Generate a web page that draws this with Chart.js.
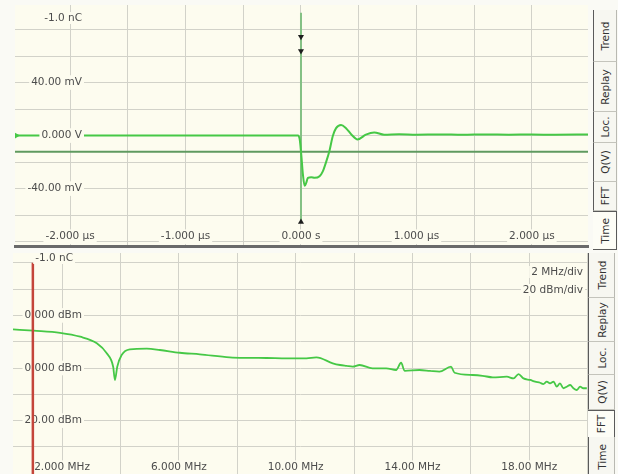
<!DOCTYPE html>
<html>
<head>
<meta charset="utf-8">
<script src="https://cdn.jsdelivr.net/npm/chart.js@4/dist/chart.umd.min.js"></script>
<style>
  html, body { margin: 0; padding: 0; }
  body { width: 618px; height: 474px; overflow: hidden; position: relative; background: #fafaf5; }
  canvas { position: absolute; }
  #timeChart { left: 0; top: 0; }
  #fftChart { left: 0; top: 253px; }
  .tab { position: absolute; box-sizing: border-box; background: #f7f7f1;
         border-left: 1.5px solid #5a5a5a; border-right: 1px solid #b9b9b2; border-bottom: 1px solid #c4c4bc; overflow: hidden; }
  .tab.sel { background: #fdfdf6; border-left: none; border-right: 1.5px solid #5a5a5a;
             border-top: 1.5px solid #5a5a5a; border-bottom: 1.5px solid #5a5a5a; }
  .tab span { position: absolute; left: 50%; top: 50%; transform: translate(-50%, -50%) rotate(-90deg);
              font: 10.5px "DejaVu Sans", sans-serif; color: #333; white-space: nowrap; }
</style>
</head>
<body>
<canvas id="timeChart" width="593" height="251"></canvas>
<canvas id="fftChart" width="589" height="223"></canvas>

<!-- view selector tabs, time panel -->
<div class="tab" style="left:593px;top:10px;width:24px;height:52px"><span>Trend</span></div>
<div class="tab" style="left:593px;top:62px;width:24px;height:50px"><span>Replay</span></div>
<div class="tab" style="left:593px;top:112px;width:24px;height:31px"><span>Loc.</span></div>
<div class="tab" style="left:593px;top:143px;width:24px;height:39px"><span>Q(V)</span></div>
<div class="tab" style="left:593px;top:182px;width:24px;height:29px"><span>FFT</span></div>
<div class="tab sel" style="left:593px;top:211px;width:24px;height:39px"><span>Time</span></div>

<!-- view selector tabs, spectrum panel -->
<div class="tab" style="left:588px;top:253px;width:27px;height:45px"><span>Trend</span></div>
<div class="tab" style="left:588px;top:298px;width:27px;height:44px"><span>Replay</span></div>
<div class="tab" style="left:588px;top:342px;width:27px;height:33px"><span>Loc.</span></div>
<div class="tab" style="left:588px;top:375px;width:27px;height:35px"><span>Q(V)</span></div>
<div class="tab sel" style="left:588px;top:410px;width:27px;height:28px"><span>FFT</span></div>
<div class="tab" style="left:588px;top:437px;width:27px;height:40px"><span>Time</span></div>

<script>
// ---- time-domain capture (µs, mV) ----
const timeUs = [-2.477, -2.0, -1.5, -1.0, -0.5, -0.1, -0.026, -0.011, 0.003, 0.017, 0.032, 0.046, 0.06,
                0.089, 0.118, 0.161, 0.189, 0.218, 0.247, 0.275, 0.304, 0.347, 0.39, 0.44, 0.49, 0.562,
                0.634, 0.72, 0.85, 1.0, 1.2, 1.4, 1.6, 1.8, 2.0, 2.2, 2.486];
const voltMv = [0, 0, 0, 0, 0, 0, 0, -2.9, -15, -29.5, -37.9, -35.5, -31.9,
                -31.4, -31.9, -30.7, -27, -19.8, -11.4, -0.5, 5.6, 8.0, 5.6, 0.5, -2.9, 0.7,
                2.4, 0.7, 1.0, 0.7, 0.9, 0.6, 0.9, 0.7, 0.8, 0.6, 0.8];

// integrated charge trace (nC), flat over the record
const chargeTimeUs = [-2.477, 2.486];
const chargeNc = [-0.375, -0.375];

// trigger cursor
const cursorTimeUs = 0;
const cursorSpanMv = [92.7, -66.0];
const cursorMarkMv = [74.6, 63.8, -65.2];
const cursorMarkRotation = [180, 180, 0];

// ---- spectrum (MHz, dBm) ----
const freqMHz = [0.32, 1.02, 1.93, 2.62, 3.19, 3.53, 3.75, 3.81, 3.89, 4.04, 4.32, 4.90, 5.35, 6.03,
                 6.72, 7.74, 8.4, 9.0, 9.7, 10.37, 10.71, 11.27, 11.52, 11.75, 11.95, 12.19, 12.63, 13.1,
                 13.44, 13.61, 13.73, 14.24, 14.6, 14.92, 15.32, 15.44, 16.06, 16.4, 16.75, 17.23, 17.46,
                 17.63, 17.8, 18.03, 18.2, 18.37, 18.48, 18.6, 18.71, 18.83, 18.94, 19.05, 19.17, 19.28,
                 19.4, 19.51, 19.63, 19.74, 19.85, 19.97];
const levelDbm = [29.4, 28.4, 26.8, 23.8, 18.8, 11.2, 1.0, -9.1, 1.0, 9.9, 14.2, 14.7, 13.7, 11.6,
                  10.4, 8.1, 7.7, 7.6, 7.3, 7.4, 8.1, 3.6, 2.3, 1.6, 1.0, 2.3, -0.2, -0.2,
                  -1.5, 4.0, -2.1, -1.5, -2.2, -2.8, 1.0, -3.6, -5.3, -5.9, -7.1, -6.6, -7.9,
                  -4.6, -7.9, -9.1, -10.4, -11.2, -12.2, -10.4, -11.7, -10.4, -14.2, -11.7, -15.4, -14.2,
                  -12.9, -15.4, -16.7, -14.2, -15.4, -15.4];
const markerFreqMHz = 1.0;
const markerSpanDbm = [80, -90];

// ---- axes: grid divisions and labelled ticks ----
const timeGrid = [-2, -1.5, -1, -0.5, 0, 0.5, 1, 1.5, 2];
const timeTickValues = [-2, -1, 0, 1, 2];
const timeTickLabels = ['-2.000 µs', '-1.000 µs', '0.000 s', '1.000 µs', '2.000 µs'];
const voltGrid = [80, 60, 40, 20, 0, -20, -40, -60, -80];
const voltTickValues = [40, 0, -40];
const voltTickLabels = ['40.00 mV', '0.000 V', '-40.00 mV'];

const freqGrid = [2, 4, 6, 8, 10, 12, 14, 16, 18, 20];
const freqTickValues = [2, 6, 10, 14, 18];
const freqTickLabels = ['2.000 MHz', '6.000 MHz', '10.00 MHz', '14.00 MHz', '18.00 MHz'];
const levelGrid = [80, 60, 40, 20, 0, -20, -40, -60];
const levelTickValues = [40, 0, -40];
const levelTickLabels = ['0.000 dBm', '0.000 dBm', '20.00 dBm'];

// ---- styling ----
const FAMILY = '"DejaVu Sans", sans-serif';
const FONT_SIZE = 10.5;
const LABEL_COLOR = '#4c4c4c';
const PLOT_BG = '#fdfcef';
const GRID_COLOR = '#d2d2c9';
const TRACE = '#46c846';

function textWidth(text) {
  const c = document.createElement('canvas').getContext('2d');
  c.font = FONT_SIZE + 'px ' + FAMILY;
  return c.measureText(text).width;
}
const widestOf = labels => Math.max(...labels.map(textWidth));

const labelFor = (values, labels) => v => {
  const i = values.findIndex(x => Math.abs(x - v) < 1e-6);
  return i >= 0 ? labels[i] : '';
};
const backdropFor = ctx => (ctx.tick && ctx.tick.label ? PLOT_BG : 'rgba(0,0,0,0)');
const gridTicks = values => scale => { scale.ticks = values.map(v => ({ value: v })); };
const flatX = s => { s.height = 0; s.paddingLeft = 0; s.paddingRight = 0; };
const flatY = s => { s.width = 0; s.paddingTop = 0; s.paddingBottom = 0; };
const xy = (xs, ys) => xs.map((x, i) => ({ x, y: ys[i] }));

// cream plot field
const plotFill = {
  id: 'plotFill',
  beforeDraw(chart) {
    const { ctx, chartArea: a } = chart;
    ctx.save();
    ctx.fillStyle = PLOT_BG;
    ctx.fillRect(a.left, a.top, a.right - a.left, a.bottom - a.top);
    ctx.restore();
  }
};

// scale captions printed inside the plot
const captions = {
  id: 'captions',
  afterDraw(chart, args, opts) {
    const ctx = chart.ctx;
    ctx.save();
    ctx.font = FONT_SIZE + 'px ' + FAMILY;
    ctx.textBaseline = 'middle';
    ctx.textAlign = 'right';
    (opts.items || []).forEach(it => {
      const w = ctx.measureText(it.text).width;
      ctx.fillStyle = PLOT_BG;
      ctx.fillRect(it.x - w - 2, it.y - 6, w + 4, 12);
      ctx.fillStyle = LABEL_COLOR;
      ctx.fillText(it.text, it.x, it.y);
    });
    ctx.restore();
  }
};

const tickFont = { family: FAMILY, size: FONT_SIZE };

// ---------- time panel ----------
new Chart(document.getElementById('timeChart'), {
  type: 'line',
  data: {
    datasets: [
      {
        label: 'Cursor marks', order: 0,
        data: cursorMarkMv.map(v => ({ x: cursorTimeUs, y: v })),
        showLine: false, pointStyle: 'triangle', pointRadius: 3.5,
        pointRotation: ctx => cursorMarkRotation[ctx.dataIndex],
        pointBackgroundColor: '#1e1e1e', pointBorderWidth: 0, yAxisID: 'y'
      },
      {
        label: 'Voltage', order: 1,
        data: xy(timeUs, voltMv),
        borderColor: TRACE, borderWidth: 2, cubicInterpolationMode: 'monotone',
        pointStyle: 'triangle', pointRotation: 90,
        pointRadius: ctx => (ctx.dataIndex === 0 ? 5 : 0),
        pointBackgroundColor: TRACE, pointBorderWidth: 0, yAxisID: 'y'
      },
      {
        label: 'Cursor', order: 2,
        data: cursorSpanMv.map(v => ({ x: cursorTimeUs, y: v })),
        borderColor: '#84c184', borderWidth: 2, pointRadius: 0, yAxisID: 'y'
      },
      {
        label: 'Q(V)', order: 3,
        data: xy(chargeTimeUs, chargeNc),
        borderColor: '#5f9a5f', borderWidth: 2, pointRadius: 0, yAxisID: 'q'
      }
    ]
  },
  options: {
    responsive: false, animation: false, events: [],
    layout: { padding: { left: 15, right: 1, top: 0, bottom: 0 } },
    plugins: {
      legend: { display: false }, tooltip: { enabled: false },
      captions: { items: [{ text: '-1.0 nC', x: 82, y: 18 }] }
    },
    scales: {
      x: {
        type: 'linear', position: 'bottom', min: -2.477, max: 2.486,
        afterBuildTicks: gridTicks(timeGrid), afterFit: flatX,
        grid: { color: GRID_COLOR, lineWidth: 1, drawTicks: false },
        border: { display: true, color: '#6a6a6a', width: 3 },
        ticks: {
          mirror: true, padding: 3, z: 1, autoSkip: false, maxRotation: 0, minRotation: 0,
          font: tickFont, color: LABEL_COLOR, callback: labelFor(timeTickValues, timeTickLabels),
          showLabelBackdrop: true, backdropColor: backdropFor, backdropPadding: { x: 2, y: 1 }
        }
      },
      y: {
        type: 'linear', position: 'left', min: -83.3, max: 98.5,
        afterBuildTicks: gridTicks(voltGrid), afterFit: flatY,
        grid: { color: GRID_COLOR, lineWidth: 1, drawTicks: false },
        border: { display: false },
        ticks: {
          mirror: true, crossAlign: 'far', padding: 67 - widestOf(voltTickLabels), z: 1, autoSkip: false,
          font: tickFont, color: LABEL_COLOR, callback: labelFor(voltTickValues, voltTickLabels),
          showLabelBackdrop: true, backdropColor: backdropFor, backdropPadding: { x: 2, y: 1 }
        }
      },
      q: { type: 'linear', display: false, min: -1.0, max: 0.6 }
    }
  },
  plugins: [plotFill, captions]
});

// ---------- spectrum panel ----------
new Chart(document.getElementById('fftChart'), {
  type: 'line',
  data: {
    datasets: [
      {
        label: 'Marker', order: 0,
        data: markerSpanDbm.map(v => ({ x: markerFreqMHz, y: v })),
        borderColor: '#c4453b', borderWidth: 2.5, pointRadius: 0
      },
      {
        label: 'Spectrum', order: 1,
        data: xy(freqMHz, levelDbm),
        borderColor: TRACE, borderWidth: 1.8, cubicInterpolationMode: 'monotone', pointRadius: 0
      }
    ]
  },
  options: {
    responsive: false, animation: false, events: [],
    layout: { padding: { left: 13, right: 1, top: 0, bottom: 0 } },
    plugins: {
      legend: { display: false }, tooltip: { enabled: false },
      captions: {
        items: [
          { text: '-1.0 nC', x: 73, y: 5 },
          { text: '2 MHz/div', x: 583, y: 19 },
          { text: '20 dBm/div', x: 583, y: 37 }
        ]
      }
    },
    scales: {
      x: {
        type: 'linear', position: 'bottom', min: 0.32, max: 20.01,
        afterBuildTicks: gridTicks(freqGrid), afterFit: flatX,
        grid: { color: GRID_COLOR, lineWidth: 1, drawTicks: false },
        border: { display: false },
        ticks: {
          mirror: true, padding: 2, autoSkip: false, maxRotation: 0, minRotation: 0,
          font: tickFont, color: LABEL_COLOR, callback: labelFor(freqTickValues, freqTickLabels),
          showLabelBackdrop: true, backdropColor: backdropFor, backdropPadding: { x: 2, y: 1 }
        }
      },
      y: {
        type: 'linear', position: 'left', min: -82.1, max: 87.45,
        afterBuildTicks: gridTicks(levelGrid), afterFit: flatY,
        grid: { color: GRID_COLOR, lineWidth: 1, drawTicks: false },
        border: { display: false },
        ticks: {
          mirror: true, crossAlign: 'far', padding: 69 - widestOf(levelTickLabels), autoSkip: false,
          font: tickFont, color: LABEL_COLOR, callback: labelFor(levelTickValues, levelTickLabels),
          showLabelBackdrop: true, backdropColor: backdropFor, backdropPadding: { x: 2, y: 1 }
        }
      }
    }
  },
  plugins: [plotFill, captions]
});
</script>
</body>
</html>
